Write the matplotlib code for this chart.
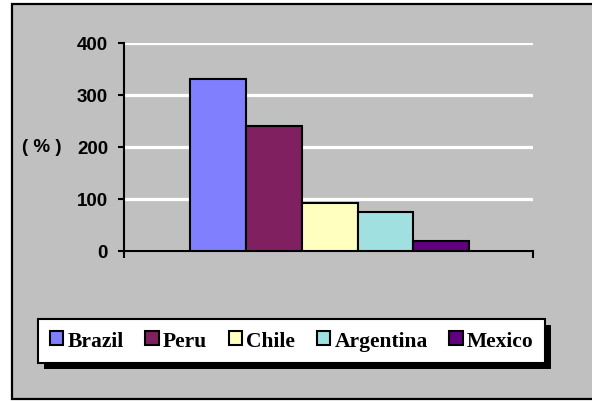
import matplotlib
matplotlib.use("Agg")
import matplotlib.pyplot as plt
from matplotlib.patches import Rectangle, Patch
import numpy as np

countries = ["Brazil", "Peru", "Chile", "Argentina", "Mexico"]
values = [330, 240, 93, 75, 19]
colors = ["#8080FF", "#802060", "#FFFFC0", "#A0E0E0", "#600080"]
yticks = [0, 100, 200, 300, 400]
ylabel = "( % )"

W, H = 592, 402
fig = plt.figure(figsize=(W / 100, H / 100), dpi=100, facecolor="white")

# outer chart area frame
fig.patches.append(Rectangle((12 / W, 2 / H), 1.0, 395 / H, transform=fig.transFigure,
                             facecolor="#C0C0C0", edgecolor="black", linewidth=1.6, zorder=-5))

ax = fig.add_axes([124 / W, (H - 252) / H, (533 - 124) / W, (252 - 44) / H])
ax.set_facecolor("none")
ax.set_zorder(2)

x = np.arange(len(countries))
ax.bar(x, values, width=1.0, color=colors, edgecolor="black", linewidth=1.5, zorder=3)

ax.set_xlim(-1.68, 5.64)
ax.set_ylim(0, 400)
ax.set_yticks(yticks)
ax.set_yticklabels([str(v) for v in yticks], fontfamily="Liberation Sans",
                   fontweight="bold", fontsize=13.5)
ax.yaxis.grid(True, color="white", linewidth=2.3, zorder=1)
ax.set_axisbelow(True)
ax.set_xticks([-1.68, 5.64])
ax.set_xticklabels(["", ""])
ax.tick_params(axis="x", direction="out", length=5, width=1.5, color="black")
ax.tick_params(axis="y", direction="out", length=4.5, width=1.5, color="black", pad=7)
for s in ["top", "right"]:
    ax.spines[s].set_visible(False)
for s in ["left", "bottom"]:
    ax.spines[s].set_linewidth(1.5)
    ax.spines[s].set_color("black")

ax.set_ylabel(ylabel, rotation=0, fontfamily="Liberation Sans", fontweight="bold",
              fontsize=13.5, va="center", ha="center")
ax.yaxis.set_label_coords(-0.2, 0.5)

handles = [Patch(facecolor=c, edgecolor="black", linewidth=1.5) for c in colors]
leg = fig.legend(handles, countries, loc="center left",
                 bbox_to_anchor=(38 / W, (H - 342) / H), ncol=5,
                 prop={"family": "Liberation Serif", "weight": "bold", "size": 15.5},
                 handlelength=0.62, handleheight=0.62, handletextpad=0.2,
                 columnspacing=1.0, borderpad=0.55, borderaxespad=0,
                 fancybox=False, frameon=True, framealpha=1)
leg.get_frame().set_edgecolor("black")
leg.get_frame().set_linewidth(1.5)
leg.set_zorder(5)

fig.canvas.draw()
bb = leg.get_window_extent()
inv = fig.transFigure.inverted()
(x0, y0), (x1, y1) = inv.transform([[bb.x0, bb.y0], [bb.x1, bb.y1]])
fig.patches.append(Rectangle((x0 + 6 / W, y0 - 6 / H), x1 - x0, y1 - y0,
                             transform=fig.transFigure, facecolor="black",
                             edgecolor="none", zorder=4))

fig.savefig("out.png", dpi=100, facecolor="white")
